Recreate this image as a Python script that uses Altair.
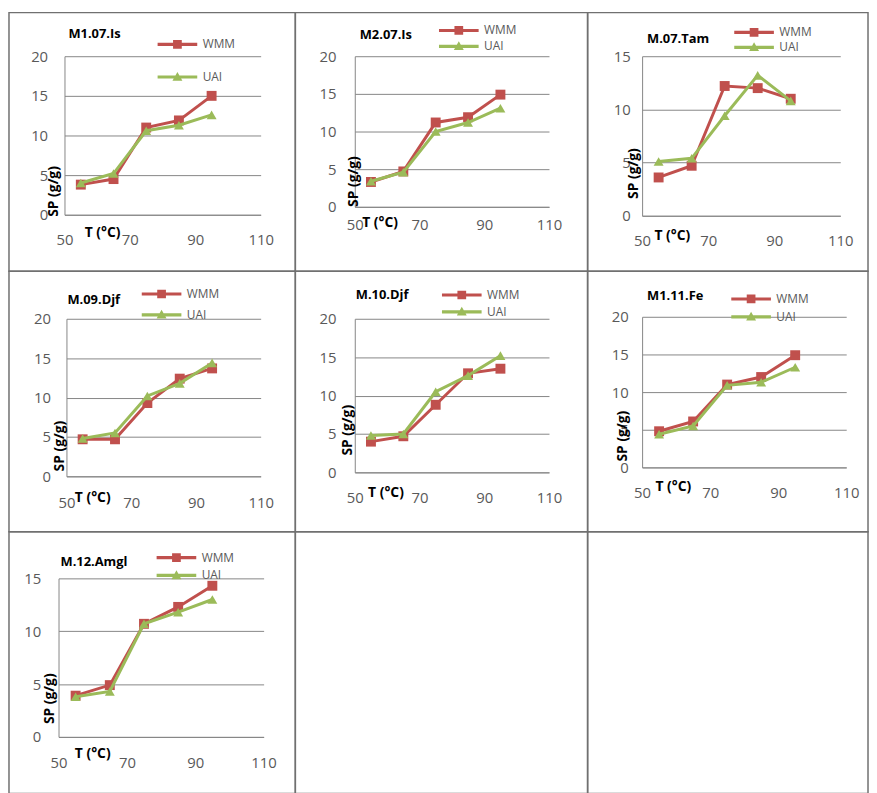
import altair as alt
import pandas as pd

# ---------------- data ----------------
T_VALUES = [55, 65, 75, 85, 95]
SERIES = ["WMM", "UAI"]
PANEL_NAMES = ["M1.07.Is", "M2.07.Is", "M.07.Tam", "M.09.Djf", "M.10.Djf", "M1.11.Fe", "M.12.Amgl"]

WMM_M1_07_IS = [3.8, 4.5, 11.0, 11.9, 15.0]
UAI_M1_07_IS = [4.0, 5.2, 10.6, 11.3, 12.6]
WMM_M2_07_IS = [3.3, 4.7, 11.2, 11.9, 14.9]
UAI_M2_07_IS = [3.4, 4.6, 10.0, 11.2, 13.1]
WMM_M_07_TAM = [3.6, 4.7, 12.2, 12.0, 11.0]
UAI_M_07_TAM = [5.1, 5.4, 9.4, 13.2, 10.8]
WMM_M_09_DJF = [4.7, 4.7, 9.3, 12.4, 13.7]
UAI_M_09_DJF = [4.8, 5.5, 10.2, 11.8, 14.4]
WMM_M_10_DJF = [4.0, 4.7, 8.8, 12.9, 13.5]
UAI_M_10_DJF = [4.8, 5.0, 10.5, 12.6, 15.2]
WMM_M1_11_FE = [4.8, 6.1, 11.0, 12.0, 14.9]
UAI_M1_11_FE = [4.4, 5.5, 10.9, 11.3, 13.3]
WMM_M_12_AMGL = [3.9, 4.9, 10.7, 12.3, 14.3]
UAI_M_12_AMGL = [3.8, 4.3, 10.7, 11.8, 13.0]

WMM_ALL = [WMM_M1_07_IS, WMM_M2_07_IS, WMM_M_07_TAM, WMM_M_09_DJF, WMM_M_10_DJF, WMM_M1_11_FE, WMM_M_12_AMGL]
UAI_ALL = [UAI_M1_07_IS, UAI_M2_07_IS, UAI_M_07_TAM, UAI_M_09_DJF, UAI_M_10_DJF, UAI_M1_11_FE, UAI_M_12_AMGL]
Y_MAX = [20, 20, 15, 20, 20, 20, 15]

X_TICKS = [50, 70, 90, 110]
Y_TICKS_20 = [0, 5, 10, 15, 20]
Y_TICKS_15 = [0, 5, 10, 15]

X_TITLE = "T (°C)"
Y_TITLE = "SP (g/g)"

rows = []
for name, wmm, uai in zip(PANEL_NAMES, WMM_ALL, UAI_ALL):
    for t, v in zip(T_VALUES, wmm):
        rows.append({"panel": name, "series": "WMM", "T": t, "SP": v})
    for t, v in zip(T_VALUES, uai):
        rows.append({"panel": name, "series": "UAI", "T": t, "SP": v})
df = pd.DataFrame(rows)

# ---------------- styles / layout ----------------
FONT = "Open Sans"
RED = "#C0504D"
GREEN = "#9BBB59"
GRID = "#868686"
LABEL = "#595959"
BORDER = "#707070"
COLORS = {"WMM": RED, "UAI": GREEN}
SHAPES = {"WMM": "square", "UAI": "triangle-up"}

LEG_FONT = 12
# legend symbols: line with marker (unit = 2px with symbol size 16)
PATH_WMM = "M-17.75,-0.8H2.25V0.8H-17.75Z M-9.95,-2.2H-5.55V2.2H-9.95Z"
PATH_UAI = "M-17.75,-0.8H2.25V0.8H-17.75Z M-7.75,-2.6L-5.25,1.9H-10.25Z"

COL_X = [8, 297, 592]
COL_W = [289, 295, 283]
ROW_Y = [8, 269, 532]
ROW_H = [261, 263, 264]

# absolute page coordinates of plot elements for each panel
LAYOUT = [
    dict(col=0, row=0, L=64, R=262, T=52, B=212, tx=68, ty=43, lr=198, l1=40, l2=73, xt=(102, 230), yt=(53, 188), ylp=17, xlp=18),
    dict(col=1, row=0, L=357, R=553, T=52, B=204, tx=362, ty=44, lr=482, l1=26, l2=42, xt=(382, 220), yt=(356, 178), ylp=19, xlp=11),
    dict(col=2, row=0, L=647, R=847, T=52, B=213, tx=652, ty=48, lr=780, l1=28, l2=43, xt=(677, 233), yt=(638, 170), ylp=12, xlp=18),
    dict(col=0, row=1, L=66, R=262, T=317, B=476, tx=67, ty=311, lr=182, l1=292, l2=313, xt=(92, 497), yt=(59, 445), ylp=16, xlp=19),
    dict(col=1, row=1, L=357, R=553, T=317, B=472, tx=358, ty=306, lr=485, l1=293, l2=310, xt=(388, 492), yt=(350, 429), ylp=19, xlp=18),
    dict(col=2, row=1, L=647, R=853, T=315, B=467, tx=652, ty=307, lr=777, l1=297, l2=315, xt=(678, 486), yt=(627, 435), ylp=14, xlp=18),
    dict(col=0, row=2, L=58, R=265, T=579, B=739, tx=60, ty=576, lr=197, l1=558, l2=576, xt=(92, 756), yt=(49, 700), ylp=18, xlp=19),
]


def panel(i):
    name = PANEL_NAMES[i]
    lay = LAYOUT[i]
    cx, cy = COL_X[lay["col"]], ROW_Y[lay["row"]]
    w, h = COL_W[lay["col"]], ROW_H[lay["row"]]
    ymax = Y_MAX[i]
    yticks = Y_TICKS_20 if ymax == 20 else Y_TICKS_15
    sub = df[df["panel"] == name]

    x_enc = alt.X(
        "T:Q",
        scale=alt.Scale(domain=[50, 110], range=[lay["L"] - cx, lay["R"] - cx], nice=False, zero=False),
        axis=alt.Axis(
            values=X_TICKS, title=X_TITLE, grid=False, ticks=False, domain=True,
            domainColor=GRID, domainWidth=1,
            labelFont=FONT, labelFontSize=15, labelColor=LABEL, labelPadding=lay["xlp"],
            labelFlush=False, labelOverlap=False,
            offset=(lay["B"] - cy) - h,
            titleX=lay["xt"][0] - cx, titleY=lay["xt"][1] - lay["B"],
            titleAlign="center", titleBaseline="middle",
            titleFont=FONT, titleFontSize=14, titleFontWeight="bold", titleColor="black",
        ),
    )
    y_enc = alt.Y(
        "SP:Q",
        scale=alt.Scale(domain=[0, ymax], range=[lay["B"] - cy, lay["T"] - cy], nice=False, zero=True),
        axis=alt.Axis(
            values=yticks, title=Y_TITLE, grid=True, gridColor=GRID, gridWidth=1,
            ticks=False, domain=True, domainColor=GRID, domainWidth=1,
            labelFont=FONT, labelFontSize=15, labelColor=LABEL, labelPadding=lay["ylp"],
            labelFlush=False, labelOverlap=False,
            offset=-(lay["L"] - cx),
            titleX=lay["yt"][0] - lay["L"], titleY=lay["yt"][1] - cy,
            titleAngle=270, titleAlign="center", titleBaseline="middle",
            titleFont=FONT, titleFontSize=14, titleFontWeight="bold", titleColor="black",
        ),
    )

    layers = []
    for s in SERIES:
        ss = sub[sub["series"] == s]
        layers.append(
            alt.Chart(ss).mark_line(color=COLORS[s], strokeWidth=3).encode(x=x_enc, y=y_enc)
        )
        layers.append(
            alt.Chart(ss).mark_point(shape=SHAPES[s], filled=True, size=100, color=COLORS[s], opacity=1)
            .encode(x=x_enc, y=y_enc)
        )

    leg = alt.Legend(
        orient="none", legendX=(lay["lr"] - cx) - 10.5, legendY=(lay["l1"] - cy) - LEG_FONT / 2,
        title=None, direction="vertical", padding=0,
        labelFont=FONT, labelFontSize=LEG_FONT, labelColor=LABEL, labelOffset=4,
        rowPadding=max(2, (lay["l2"] - lay["l1"]) - LEG_FONT),
        symbolSize=16, symbolStrokeWidth=0,
    )
    layers.append(
        alt.Chart(sub).transform_filter("false").mark_point(filled=True, opacity=1).encode(
            x=x_enc, y=y_enc,
            fill=alt.Fill("series:N", scale=alt.Scale(domain=SERIES, range=[RED, GREEN]), legend=leg),
            shape=alt.Shape("series:N", scale=alt.Scale(domain=SERIES, range=[PATH_WMM, PATH_UAI]), legend=leg),
        )
    )

    return alt.layer(*layers).properties(
        width=w, height=h,
        title=alt.TitleParams(
            text=name, anchor="start", frame="group", orient="top", offset=0,
            dx=lay["tx"] - cx, dy=lay["ty"] - cy, baseline="middle",
            font=FONT, fontSize=13, fontWeight="bold", color="black",
        ),
    )


def empty(col, row):
    e = pd.DataFrame({"v": [0]})
    return alt.Chart(e).mark_point(opacity=0).encode(
        x=alt.X("v:Q", axis=None), y=alt.Y("v:Q", axis=None)
    ).properties(width=COL_W[col], height=ROW_H[row])


cells = [panel(i) for i in range(len(PANEL_NAMES))] + [empty(1, 2), empty(2, 2)]

chart = (
    alt.concat(*cells, columns=3, spacing=0, bounds="flush", align="each")
    .resolve_scale(fill="independent", shape="independent")
    .properties(padding=0)
    .configure(font=FONT)
    .configure_view(stroke=BORDER, strokeWidth=1.5)
)

chart.save("out.html", embed_options={"renderer": "svg", "actions": False})
